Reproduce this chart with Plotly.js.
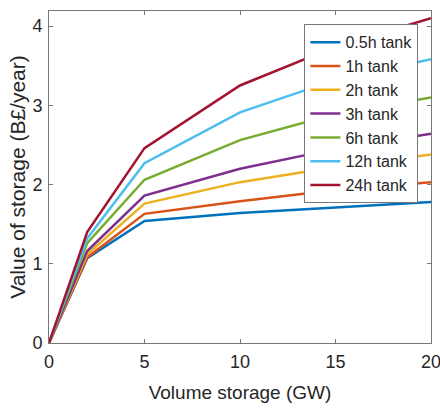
<!DOCTYPE html>
<html>
<head>
<meta charset="utf-8">
<script src="https://cdn.plot.ly/plotly-3.0.1.min.js"></script>
<style>html,body{margin:0;padding:0;background:#fff;}#chart{width:440px;height:408px;}</style>
</head>
<body>
<div id="chart"></div>
<script>
const volumeGW = [0, 2, 5, 10, 15, 20];
const seriesNames = ["0.5h tank", "1h tank", "2h tank", "3h tank", "6h tank", "12h tank", "24h tank"];
const tank05h = [0, 1.07, 1.54, 1.64, 1.71, 1.78];
const tank1h  = [0, 1.08, 1.63, 1.79, 1.93, 2.03];
const tank2h  = [0, 1.12, 1.76, 2.03, 2.22, 2.38];
const tank3h  = [0, 1.16, 1.86, 2.20, 2.45, 2.64];
const tank6h  = [0, 1.26, 2.06, 2.56, 2.89, 3.10];
const tank12h = [0, 1.32, 2.27, 2.91, 3.32, 3.58];
const tank24h = [0, 1.40, 2.46, 3.25, 3.74, 4.10];
const xTicks = [0, 5, 10, 15, 20];
const yTicks = [0, 1, 2, 3, 4];

const allSeries = [tank05h, tank1h, tank2h, tank3h, tank6h, tank12h, tank24h];
const colors = ["#0072BD", "#D95319", "#EDB120", "#7E2F8E", "#77AC30", "#4DBEEE", "#A2142F"];
const FONT = "Liberation Sans, Arial, sans-serif";

const traces = allSeries.map((ys, i) => ({
  x: volumeGW, y: ys, type: "scatter", mode: "lines", name: seriesNames[i],
  line: {color: colors[i], width: 2.5}
}));

const axisCommon = {
  showgrid: false, zeroline: false, showline: true, linecolor: "#777", linewidth: 1,
  mirror: "ticks", ticks: "inside", ticklen: 4, tickcolor: "#777", tickwidth: 1,
  automargin: false, ticklabeloverflow: "allow",
  tickfont: {family: FONT, size: 18, color: "#262626"}
};

const layout = {
  width: 440, height: 408,
  margin: {l: 49, r: 9, t: 11, b: 65},
  paper_bgcolor: "#fff", plot_bgcolor: "#fff",
  showlegend: true,
  font: {family: FONT, color: "#262626"},
  xaxis: Object.assign({}, axisCommon, {
    range: [0, 20], tickvals: xTicks, ticktext: xTicks.map(String),
    ticklabelstandoff: 2,
    title: {text: "Volume storage (GW)", font: {family: FONT, size: 19, color: "#262626"}, standoff: 15}
  }),
  yaxis: Object.assign({}, axisCommon, {
    range: [0, 4.19], tickvals: yTicks, ticktext: yTicks.map(String),
    ticklabelstandoff: 2,
    title: {text: "Value of storage (B£/year)", font: {family: FONT, size: 21, color: "#262626"}, standoff: 1}
  }),
  legend: {
    x: 0.967, y: 0.96, xanchor: "right", yanchor: "top",
    bgcolor: "#fff", bordercolor: "#777", borderwidth: 1,
    font: {family: FONT, size: 16, color: "#262626"},
    tracegroupgap: 0, itemwidth: 30
  }
};

Plotly.newPlot("chart", traces, layout, {displayModeBar: false, staticPlot: true});
</script>
</body>
</html>
